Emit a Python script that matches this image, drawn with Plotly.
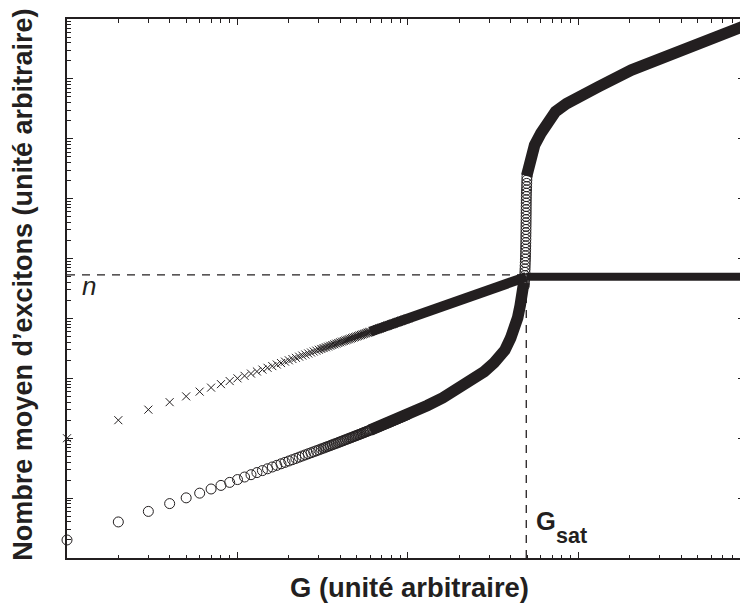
import plotly.graph_objects as go

C = "#231f20"
C_LIGHT = "rgba(35,31,32,0.45)"

# ---- data ----
# individual circle markers at low G
circ_G = list(range(1, 61)) + list(range(62, 101, 2))
circ_N = [2.0, 4.0, 6.0, 8.1, 10.1, 12.1, 14.2, 16.3, 18.3, 20.4,
          22.5, 24.6, 26.7, 28.8, 30.9, 33.1, 35.2, 37.4, 39.5, 41.7,
          43.8, 46.0, 48.3, 50.5, 52.7, 55.0, 57.2, 59.4, 61.6, 63.9,
          66.2, 68.5, 70.8, 73.1, 75.4, 77.7, 80.0, 82.3, 84.7, 87.0,
          89.4, 91.8, 94.2, 96.6, 99.0, 101.4, 103.9, 106.3, 108.8, 111.3,
          113.7, 116.2, 118.7, 121.3, 123.8, 126.3, 128.9, 131.4, 134.0, 136.6,
          141.8, 147.1, 152.4, 157.7, 163.1, 168.6, 174.1, 179.6, 185.2, 190.9,
          196.6, 202.4, 208.3, 214.2, 220.1, 226.1, 232.2, 238.3, 244.5, 250.8]

# dense circles below G_sat (band)
band_lo_G = [110, 130, 160, 200, 240, 280, 320, 342, 370, 400, 420,
             440, 455, 465, 472, 478]
band_lo_N = [283.0, 352.9, 473.3, 672.2, 933.5, 1293, 1817,
             2223, 2948, 4700, 6600, 10300, 16400, 24200, 31600, 40000]

# circles stacked in the steep part near G_sat
stack_G = [481, 482, 483, 484, 485, 486, 486.8, 487.6, 488.4, 489,
           489.5, 490, 490.4, 490.8, 491.2, 491.5, 491.8, 492.1, 492.4, 492.7,
           493, 493.2, 493.4, 493.6, 493.8, 494, 494.2, 494.6, 495.1, 495.7,
           496.3, 497, 497.7, 498.5]
stack_N = [35480, 40270, 45710, 51880, 58880, 66830, 75860, 86100, 97720, 110900,
           125900, 142900, 162200, 184100, 208900, 237100, 269200, 305500, 346700, 393600,
           446700, 507000, 575400, 653100, 741300, 841400, 955000, 1084000, 1230000, 1396000,
           1585000, 1799000, 2042000, 2317000]

# dense circles above G_sat (band)
band_hi_G = [496.5, 510.1, 527.6, 552.9, 601.9, 658.8, 733.7, 850.9, 1041,
             1309, 2041, 3228, 5032, 7849, 9350]
band_hi_N = [2.390e6, 3.648e6, 5.358e6, 7.870e6, 1.234e7, 1.936e7, 2.842e7,
             3.867e7, 5.465e7, 7.402e7, 1.406e8, 2.346e8, 3.927e8, 6.135e8, 7.637e8]

# crosses
cross_G = list(range(1, 61)) + list(range(62, 101, 2))
cross_N = [100, 200, 300, 400, 500, 600, 700, 800, 900, 1000,
           1100, 1200, 1300, 1400, 1500, 1600, 1700, 1800, 1900, 2000,
           2100, 2200, 2300, 2400, 2500, 2600, 2700, 2800, 2900, 3000,
           3100, 3200, 3300, 3400, 3500, 3600, 3700, 3800, 3900, 4000,
           4100, 4200, 4300, 4400, 4500, 4600, 4700, 4800, 4900, 5000,
           5100, 5200, 5300, 5400, 5500, 5600, 5700, 5800, 5900, 6000,
           6200, 6400, 6600, 6800, 7000, 7200, 7400, 7600, 7800, 8000,
           8200, 8400, 8600, 8800, 9000, 9200, 9400, 9600, 9800, 10000]
cross_band_G = [150, 200, 300, 400, 494]
cross_band_N = [15000, 20000, 30000, 40000, 49400]
plateau_G = [494, 9387]
plateau_N = [49700, 49700]

# reference lines
n_level = 53500
G_sat = 494
G_min, N_min = 1, 1

MERGE_FROM = 29   # markers begin to overlap (G = 30)
SOLID_FROM = 59   # markers fully merged into a solid band (G = 60)

fig = go.Figure()

# dashed guides
fig.add_trace(go.Scatter(x=[G_min, G_sat], y=[n_level, n_level], mode="lines",
                         line=dict(color=C, width=1.3, dash="8px,7px"), hoverinfo="skip"))
fig.add_trace(go.Scatter(x=[G_sat, G_sat], y=[N_min, n_level], mode="lines",
                         line=dict(color=C, width=1.3, dash="8px,7px"), hoverinfo="skip"))

# crosses
fig.add_trace(go.Scatter(x=cross_G[MERGE_FROM:SOLID_FROM + 1], y=cross_N[MERGE_FROM:SOLID_FROM + 1],
                         mode="lines", line=dict(color=C_LIGHT, width=8)))
fig.add_trace(go.Scatter(x=cross_G[SOLID_FROM:] + cross_band_G,
                         y=cross_N[SOLID_FROM:] + cross_band_N,
                         mode="lines", line=dict(color=C, width=10)))
fig.add_trace(go.Scatter(x=plateau_G, y=plateau_N, mode="lines",
                         line=dict(color=C, width=8)))
fig.add_trace(go.Scatter(x=cross_G, y=cross_N, mode="markers", cliponaxis=False,
                         marker=dict(symbol="x-thin", size=8, color=C,
                                     line=dict(width=1, color=C))))

# circles
fig.add_trace(go.Scatter(x=circ_G[MERGE_FROM:SOLID_FROM + 1], y=circ_N[MERGE_FROM:SOLID_FROM + 1],
                         mode="lines", line=dict(color=C_LIGHT, width=9)))
fig.add_trace(go.Scatter(x=circ_G[SOLID_FROM:] + band_lo_G,
                         y=circ_N[SOLID_FROM:] + band_lo_N,
                         mode="lines", line=dict(color=C, width=11.5)))
fig.add_trace(go.Scatter(x=band_hi_G, y=band_hi_N, mode="lines",
                         line=dict(color=C, width=11.5)))
fig.add_trace(go.Scatter(x=stack_G, y=stack_N, mode="markers",
                         marker=dict(symbol="circle-open", size=10, color=C,
                                     line=dict(width=1))))
fig.add_trace(go.Scatter(x=circ_G, y=circ_N, mode="markers", cliponaxis=False,
                         marker=dict(symbol="circle-open", size=10, color=C,
                                     line=dict(width=1))))

x_major = [1, 10, 100, 1000]
x_minor = [m * 10 ** k for k in range(0, 4) for m in range(2, 10)]
y_major = [10 ** k for k in range(0, 10)]
y_minor = [m * 10 ** k for k in range(0, 9) for m in range(2, 10)]

axis_common = dict(showgrid=False, zeroline=False, showticklabels=False,
                   ticks="inside", ticklen=6, tickwidth=1, tickcolor=C,
                   showline=True, linecolor=C, linewidth=2, mirror="ticks")

fig.update_xaxes(type="log", range=[0, 3.9708], tickvals=x_major,
                 minor=dict(tickvals=x_minor, ticks="inside", ticklen=3.5,
                            tickwidth=1, tickcolor=C, showgrid=False),
                 **axis_common)
fig.update_yaxes(type="log", range=[0, 9.0], tickvals=y_major,
                 minor=dict(tickvals=y_minor, ticks="inside", ticklen=3.5,
                            tickwidth=1, tickcolor=C, showgrid=False),
                 **axis_common)

FONT = "Liberation Sans, Arial, sans-serif"
annos = [
    dict(text="<b>G (unité arbitraire)</b>", x=0.5066, y=-0.0553,
         font=dict(size=27.4, color=C, family=FONT)),
    dict(text="<b>Nombre moyen d’excitons (unité arbitraire)</b>", x=-0.0651, y=0.507,
         textangle=-90, font=dict(size=27, color=C, family=FONT)),
    dict(text="<i>n</i>", x=0.0331, y=0.5046,
         font=dict(size=26, color=C, family=FONT)),
    dict(text="<b>G</b>", x=0.6907, y=0.0683, xanchor="left",
         font=dict(size=25.5, color=C, family=FONT)),
    dict(text="<b>sat</b>", x=0.7202, y=0.0411, xanchor="left",
         font=dict(size=21.5, color=C, family=FONT)),
]
for a in annos:
    a.setdefault("xanchor", "center")
    a.update(xref="paper", yref="paper", yanchor="middle", showarrow=False, borderpad=0)
    fig.add_annotation(**a)

# the page body adds an 8px offset; the figure is sized so the window shows it exactly
fig.update_layout(width=740, height=600, showlegend=False,
                  margin=dict(l=59, r=2, t=11, b=50),
                  paper_bgcolor="white", plot_bgcolor="white",
                  font=dict(family=FONT, color=C))

fig.write_html("out.html")
